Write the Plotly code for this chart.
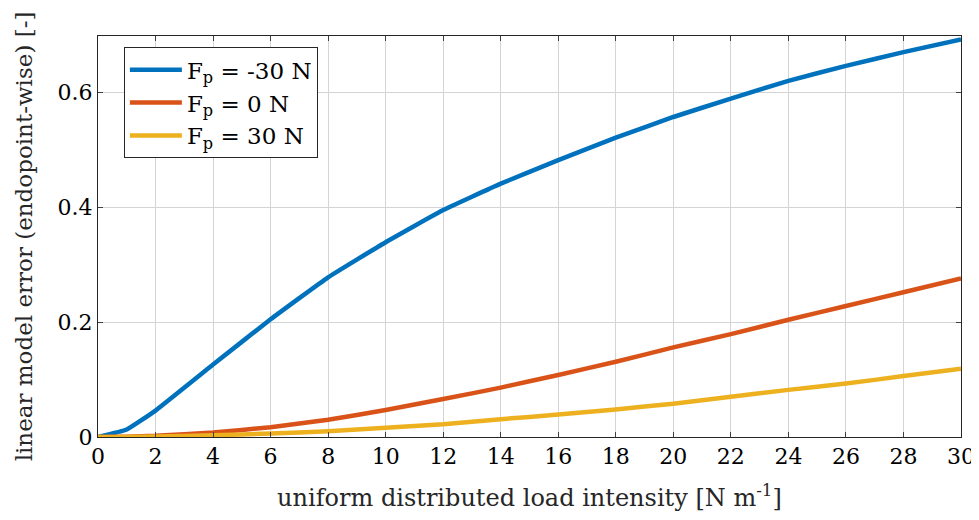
import plotly.graph_objects as go

x_vals = [0, 1, 2, 4, 6, 8, 10, 12, 14, 16, 18, 20, 22, 24, 26, 28, 30]
err_neg30 = [0, 0.013, 0.046, 0.126, 0.205, 0.278, 0.339, 0.395, 0.441, 0.482, 0.521, 0.557, 0.589, 0.620, 0.646, 0.670, 0.692]
err_0 = [0, 0.0004, 0.002, 0.008, 0.017, 0.030, 0.047, 0.066, 0.086, 0.108, 0.131, 0.156, 0.179, 0.204, 0.228, 0.252, 0.276]
err_30 = [0, 0.0001, 0.0008, 0.003, 0.006, 0.010, 0.016, 0.022, 0.031, 0.039, 0.048, 0.058, 0.070, 0.082, 0.093, 0.106, 0.119]

names = ["F<sub>p</sub> = -30 N", "F<sub>p</sub> = 0 N", "F<sub>p</sub> = 30 N"]
colors = ["#0072BD", "#D95319", "#EDB120"]
x_ticks = list(range(0, 31, 2))
y_ticks = [0, 0.2, 0.4, 0.6]
y_tick_text = ["0", "0.2", "0.4", "0.6"]

FONT = "DejaVu Serif"

fig = go.Figure()
for ys, n, c in zip([err_neg30, err_0, err_30], names, colors):
    fig.add_trace(go.Scatter(x=x_vals, y=ys, mode="lines", name=n,
                             line=dict(color=c, width=4.5, shape="spline", smoothing=0.3)))

axis_common = dict(showgrid=True, gridcolor="#d4d4d4", gridwidth=1,
                   showline=True, linecolor="#262626", linewidth=1, mirror="ticks",
                   ticks="inside", ticklen=5, tickcolor="#404040", automargin=False,
                   zeroline=False, tickfont=dict(family=FONT, size=22, color="#000"))

fig.update_xaxes(range=[0, 30], tickvals=x_ticks,
                 title=dict(text="uniform distributed load intensity [N m<sup>-1</sup>]",
                            font=dict(family=FONT, size=24, color="#262626"), standoff=24),
                 **axis_common)
fig.update_yaxes(range=[0, 0.698], tickvals=y_ticks, ticktext=y_tick_text,
                 title=dict(text="linear model error (endopoint-wise) [-]",
                            font=dict(family=FONT, size=23, color="#262626"), standoff=18),
                 **axis_common)

fig.update_layout(
    width=971, height=504,
    margin=dict(l=90, r=18, t=28, b=75),
    plot_bgcolor="white", paper_bgcolor="white",
    font=dict(family=FONT, color="#000"),
    legend=dict(x=0.03, y=0.972, xanchor="left", yanchor="top",
                bgcolor="white", bordercolor="#262626", borderwidth=1,
                font=dict(family=FONT, size=23, color="#000"),
                itemwidth=52, tracegroupgap=0),
    showlegend=True,
)

fig.write_html("out.html")
